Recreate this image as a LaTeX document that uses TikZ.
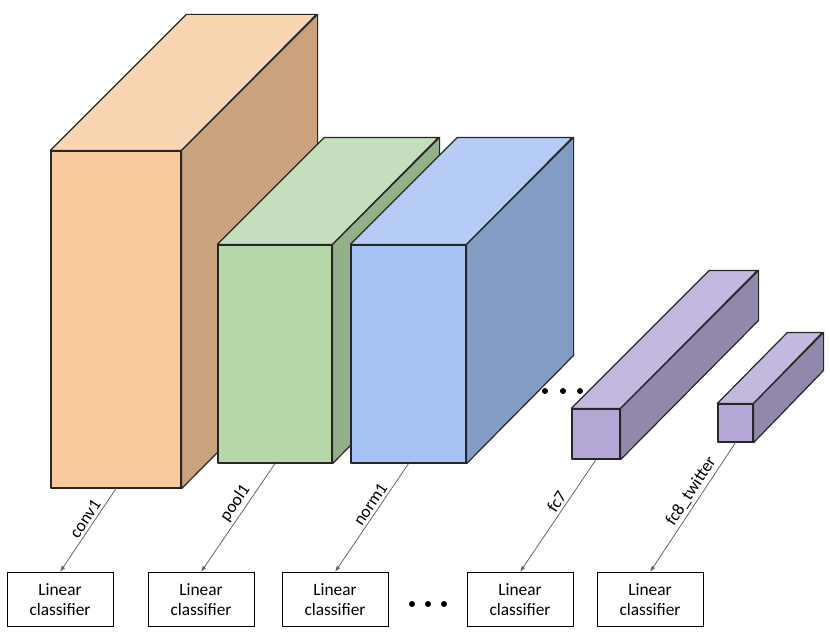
\documentclass[tikz,border=0pt]{standalone}
\usepackage{fontspec}
\setmainfont{Carlito}
\usepackage{tikz}
\usetikzlibrary{arrows.meta,positioning,calc}
\definecolor{convfront}{HTML}{F8CA9C}
\definecolor{convtop}{HTML}{FAD5B1}
\definecolor{convside}{HTML}{C9A27E}
\definecolor{poolfront}{HTML}{B6D7A8}
\definecolor{pooltop}{HTML}{C5DFBE}
\definecolor{poolside}{HTML}{94B08A}
\definecolor{normfront}{HTML}{A4C2F4}
\definecolor{normtop}{HTML}{B5CDF5}
\definecolor{normside}{HTML}{839CC4}
\definecolor{fcfront}{HTML}{B4A7D6}
\definecolor{fctop}{HTML}{C3B9DF}
\definecolor{fcside}{HTML}{9188AC}
\tikzset{
  face/.style={draw=black!85, line width=0.9pt, line join=round, inner sep=0pt},
  clfbox/.style={draw=black, line width=0.7pt, align=center, inner sep=0pt, minimum width=79.5pt, minimum height=40.5pt, font=\fontsize{13}{15.5}\selectfont},
  link/.style={-{Latex[length=1.6mm,width=1.1mm]}, line width=0.6pt, draw=black!60},
  lbl/.style={font=\fontsize{13}{15}\selectfont, sloped, above, pos=0.42, inner sep=2pt},
  dot/.style={circle, fill=black, minimum size=4.5pt, inner sep=0pt}
}

\begin{document}
\begin{tikzpicture}[x=0.75pt, y=-0.75pt]
\useasboundingbox (0,0) rectangle (830,642);
% conv1
\node[face, fill=convfront, minimum width=97.5pt, minimum height=252.75pt] (conv1) at (116,319.5) {};
\filldraw[face, fill=convtop] (conv1.north west) -- ++(136,-136) -- ++(130,0) -- (conv1.north east) -- cycle;
\filldraw[face, fill=convside] (conv1.north east) -- ++(136,-136) -- ++(0,337) -- (conv1.south east) -- cycle;
% pool1
\node[face, fill=poolfront, minimum width=85.5pt, minimum height=163.5pt] (pool1) at (275,354) {};
\filldraw[face, fill=pooltop] (pool1.north west) -- ++(107,-107) -- ++(114,0) -- (pool1.north east) -- cycle;
\filldraw[face, fill=poolside] (pool1.north east) -- ++(107,-107) -- ++(0,218) -- (pool1.south east) -- cycle;
% norm1
\node[face, fill=normfront, minimum width=86.25pt, minimum height=163.5pt] (norm1) at (408.5,354) {};
\filldraw[face, fill=normtop] (norm1.north west) -- ++(107,-107) -- ++(115,0) -- (norm1.north east) -- cycle;
\filldraw[face, fill=normside] (norm1.north east) -- ++(107,-107) -- ++(0,218) -- (norm1.south east) -- cycle;
% fc7
\node[face, fill=fcfront, minimum width=36pt, minimum height=37.5pt] (fc7) at (596,434) {};
\filldraw[face, fill=fctop] (fc7.north west) -- ++(138,-138) -- ++(48,0) -- (fc7.north east) -- cycle;
\filldraw[face, fill=fcside] (fc7.north east) -- ++(138,-138) -- ++(0,50) -- (fc7.south east) -- cycle;
% fc8_twitter
\node[face, fill=fcfront, minimum width=26.25pt, minimum height=28.5pt] (fc8) at (735.5,423) {};
\filldraw[face, fill=fctop] (fc8.north west) -- ++(70,-71) -- ++(35,0) -- (fc8.north east) -- cycle;
\filldraw[face, fill=fcside] (fc8.north east) -- ++(70,-71) -- ++(0,38) -- (fc8.south east) -- cycle;
% dots
\foreach \x/\y/\n in {545/391/a, 563/391/b, 580/391/c, 412/604/d, 428/604/e, 444/604/f}
  \node[dot] (dot\n) at (\x,\y) {};
% classifiers
\node[clfbox] (clf1) at (60,599.5) {Linear\\classifier};
\node[clfbox] (clf2) at (201,599.5) {Linear\\classifier};
\node[clfbox] (clf3) at (335,599.5) {Linear\\classifier};
\node[clfbox] (clf4) at (520,599.5) {Linear\\classifier};
\node[clfbox] (clf5) at (650,599.5) {Linear\\classifier};
% links
\draw[link] (conv1.south) -- node[lbl] {conv1} (clf1.north);
\draw[link] (pool1.south) -- node[lbl] {pool1} (clf2.north);
\draw[link] (norm1.south) -- node[lbl] {norm1} (clf3.north);
\draw[link] (fc7.south) -- node[lbl] {fc7} (clf4.north);
\draw[link] (fc8.south) -- node[lbl] {fc8\_twitter} (clf5.north);
\end{tikzpicture}
\end{document}
